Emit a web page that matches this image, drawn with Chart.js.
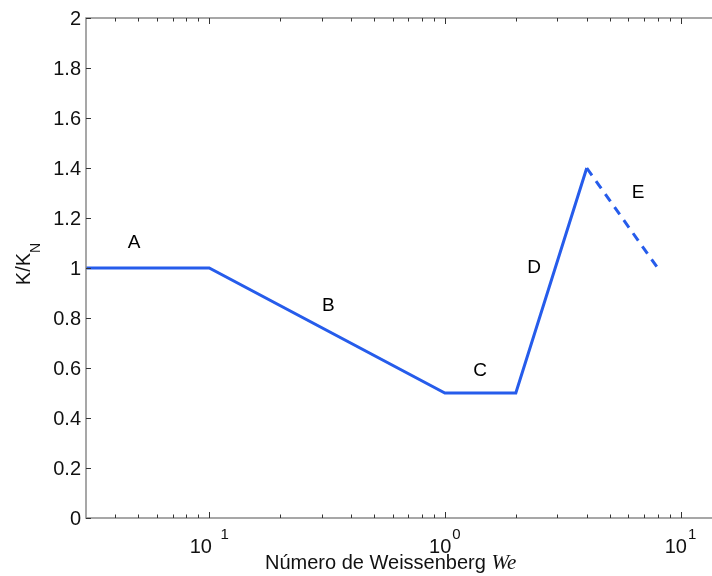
<!DOCTYPE html>
<html>
<head>
<meta charset="utf-8">
<script src="https://cdn.jsdelivr.net/npm/chart.js@4.4.0/dist/chart.umd.min.js"></script>
<style>
  html, body { margin: 0; padding: 0; background: #fff; overflow: hidden; }
  #wrap { width: 712px; height: 576px; }
</style>
</head>
<body>
<div id="wrap"><canvas id="chart"></canvas></div>
<script>
// Weissenberg number (x) and K/K_N (y)
const weissenberg = [0.03, 0.1, 1, 2, 4];
const ratioSolid = [1, 1, 0.5, 0.5, 1.4];
const weissenbergDashed = [4, 8];
const ratioDashed = [1.4, 1.0];

// region letters, placed in data coordinates
const regionNames = ['A', 'B', 'C', 'D', 'E'];
const regionWe = [0.048, 0.32, 1.41, 2.39, 6.6];
const regionRatio = [1.1, 0.85, 0.59, 1.0, 1.3];

const yTicks = [0, 0.2, 0.4, 0.6, 0.8, 1, 1.2, 1.4, 1.6, 1.8, 2];
const yTickLabels = ['0', '0.2', '0.4', '0.6', '0.8', '1', '1.2', '1.4', '1.6', '1.8', '2'];
const xMajorTicks = [0.1, 1, 10];
const xMajorExponents = ['\u20021', '0', '1'];
const xMinorTicks = [0.04, 0.05, 0.06, 0.07, 0.08, 0.09,
  0.2, 0.3, 0.4, 0.5, 0.6, 0.7, 0.8, 0.9,
  2, 3, 4, 5, 6, 7, 8, 9];

const BLUE = 'rgb(38, 92, 235)';
const SANS = '"Liberation Sans", Arial, Helvetica, sans-serif';

const toPoints = (xs, ys) => xs.map((x, i) => ({ x: x, y: ys[i] }));

// matlab-style box, inward ticks and all the labels
const framePlugin = {
  id: 'frame',
  afterDatasetsDraw(chart) {
    const { ctx, chartArea: a, scales: { x, y } } = chart;
    ctx.save();

    // region letters
    ctx.fillStyle = '#000';
    ctx.font = '19px ' + SANS;
    ctx.textAlign = 'center';
    ctx.textBaseline = 'middle';
    regionNames.forEach((n, i) => {
      ctx.fillText(n, x.getPixelForValue(regionWe[i]), y.getPixelForValue(regionRatio[i]));
    });

    // axis lines
    ctx.strokeStyle = '#8a8a8a';
    ctx.lineWidth = 1.5;
    ctx.beginPath();
    ctx.moveTo(a.right + 2, a.top);
    ctx.lineTo(a.left, a.top);
    ctx.lineTo(a.left, a.bottom);
    ctx.lineTo(a.right + 2, a.bottom);
    ctx.stroke();

    // ticks
    ctx.strokeStyle = '#333';
    ctx.lineWidth = 1;
    ctx.beginPath();
    yTicks.forEach(v => {
      const py = Math.round(y.getPixelForValue(v)) + 0.5;
      ctx.moveTo(a.left, py);
      ctx.lineTo(a.left + 5, py);
    });
    const xt = (v, len) => {
      const px = Math.round(x.getPixelForValue(v)) + 0.5;
      ctx.moveTo(px, a.bottom);
      ctx.lineTo(px, a.bottom - len);
      ctx.moveTo(px, a.top);
      ctx.lineTo(px, a.top + len);
    };
    xMajorTicks.forEach(v => xt(v, 6));
    xMinorTicks.forEach(v => xt(v, 3.5));
    ctx.stroke();

    // y tick labels
    ctx.fillStyle = '#111';
    ctx.font = '20px ' + SANS;
    ctx.textAlign = 'right';
    ctx.textBaseline = 'middle';
    yTicks.forEach((v, i) => {
      ctx.fillText(yTickLabels[i], a.left - 5, y.getPixelForValue(v) + 1);
    });

    // x tick labels: 10 with superscript exponent
    ctx.textAlign = 'left';
    ctx.textBaseline = 'alphabetic';
    xMajorTicks.forEach((v, i) => {
      ctx.font = '20px ' + SANS;
      const wBase = ctx.measureText('10').width;
      ctx.font = '15px ' + SANS;
      const wExp = ctx.measureText(xMajorExponents[i]).width;
      const left = x.getPixelForValue(v) - (wBase + wExp + 1) / 2;
      ctx.font = '20px ' + SANS;
      ctx.fillText('10', left, 553);
      ctx.font = '15px ' + SANS;
      ctx.fillText(xMajorExponents[i], left + wBase + 1, 539);
    });

    // x title
    ctx.font = '20px ' + SANS;
    const xTitle = 'Número de Weissenberg ';
    ctx.fillText(xTitle, 265, 569);
    const wt = ctx.measureText(xTitle).width;
    ctx.font = 'italic 21px "Liberation Serif", "Times New Roman", serif';
    ctx.fillText('We', 265 + wt, 569);

    // y title K/K_N, rotated
    ctx.translate(30, 264);
    ctx.rotate(-Math.PI / 2);
    ctx.font = '20px ' + SANS;
    const w1 = ctx.measureText('K/K').width;
    ctx.font = '14px ' + SANS;
    const w2 = ctx.measureText('N').width;
    const start = -(w1 + w2) / 2;
    ctx.font = '20px ' + SANS;
    ctx.fillText('K/K', start, 0);
    ctx.font = '14px ' + SANS;
    ctx.fillText('N', start + w1, 10);

    ctx.restore();
  }
};

new Chart(document.getElementById('chart'), {
  type: 'line',
  data: {
    datasets: [
      {
        data: toPoints(weissenberg, ratioSolid),
        borderColor: BLUE,
        borderWidth: 3,
        borderJoinStyle: 'miter',
        pointRadius: 0,
        fill: false,
        tension: 0,
      },
      {
        data: toPoints(weissenbergDashed, ratioDashed),
        borderColor: BLUE,
        borderWidth: 3,
        borderDash: [9, 7],
        pointRadius: 0,
        fill: false,
        tension: 0,
      },
    ],
  },
  options: {
    responsive: true,
    maintainAspectRatio: false,
    animation: false,
    layout: { padding: { left: 86, top: 18, right: 0, bottom: 58 } },
    plugins: { legend: { display: false }, tooltip: { enabled: false } },
    scales: {
      x: { type: 'logarithmic', min: 0.03, max: 13.6, display: false },
      y: { type: 'linear', min: 0, max: 2, display: false },
    },
  },
  plugins: [framePlugin],
});
</script>
</body>
</html>
